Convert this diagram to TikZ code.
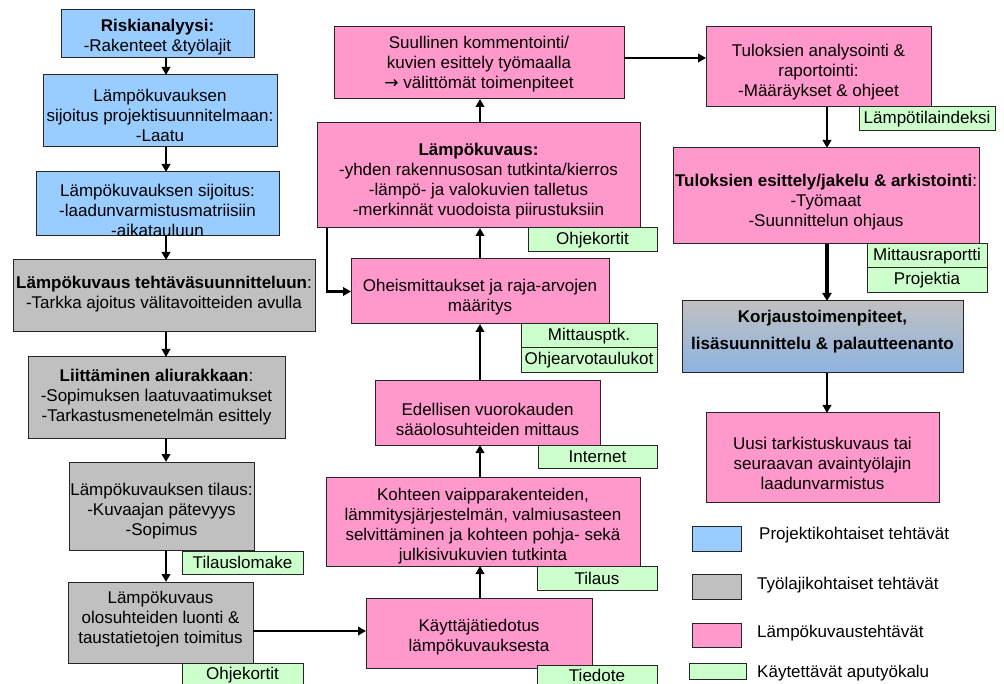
\documentclass[tikz,border=0pt]{standalone}
\usepackage{fontspec}
\setmainfont{Liberation Sans}
\newfontfamily\symfont{DejaVu Sans}
\usetikzlibrary{arrows.meta}
\definecolor{bluec}{HTML}{99CCFF}
\definecolor{grayc}{HTML}{C0C0C0}
\definecolor{pinkc}{HTML}{FF99CC}
\definecolor{greenc}{HTML}{CCFFCC}
\definecolor{korb}{HTML}{8DB3E2}
\tikzset{
 base/.style={draw=black!85, line width=1pt, inner sep=0pt, outer sep=0pt},
 bluebox/.style={base, fill=bluec},
 graybox/.style={base, fill=grayc},
 pinkbox/.style={base, fill=pinkc},
 greenbox/.style={base, fill=greenc},
 korbox/.style={base, top color=grayc, bottom color=korb},
 txt/.style={align=center, font=\fontsize{17}{20}\selectfont, inner sep=0pt, text=black},
 legtxt/.style={anchor=west, font=\fontsize{17}{20}\selectfont, inner sep=0pt, text=black},
 arr/.style={line width=2.2pt, -{Triangle[length=8pt,width=8.5pt]}},
 thickarr/.style={line width=3.3pt, -{Triangle[length=8pt,width=9pt]}},
}
% style, name, x1, y1, x2, y2, dy, text
\newcommand\mybox[8]{%
  \node[#1, minimum width={#5-#3}, minimum height={#6-#4},
        label={[name=#2-t, txt, yshift={-(#7)}]center:{#8}}]
        (#2) at ({(#3+#5)/2},{(#4+#6)/2}) {};}
\begin{document}
\begin{tikzpicture}[x=1pt,y=-1pt]
\fill[white] (0,0) rectangle (1004,684);
\useasboundingbox (0,0) rectangle (1004,684);

% left column
\mybox{bluebox}{b1}{61}{10}{254}{58}{3.5}{\textbf{Riskianalyysi:}\\-Rakenteet \&työlajit}
\mybox{bluebox}{b2}{43}{75}{277}{147}{4.5}{Lämpökuvauksen\\sijoitus projektisuunnitelmaan:\\-Laatu}
\mybox{bluebox}{b3}{36}{172}{279}{236}{6}{Lämpökuvauksen sijoitus:\\-laadunvarmistusmatriisiin\\-aikatauluun}
\mybox{graybox}{b4}{13}{260}{315}{332}{-2}{\textbf{Lämpökuvaus tehtäväsuunnitteluun}:\\-Tarkka ajoitus välitavoitteiden avulla}
\mybox{graybox}{b5}{28}{357}{285}{438}{0}{\textbf{Liittäminen aliurakkaan}:\\-Sopimuksen laatuvaatimukset\\-Tarkastusmenetelmän esittely}
\mybox{graybox}{b6}{69}{462}{254}{550}{5}{Lämpökuvauksen tilaus:\\-Kuvaajan pätevyys\\-Sopimus}
\mybox{greenbox}{g1}{182}{551}{303}{574}{0}{Tilauslomake}
\mybox{graybox}{b7}{68}{582}{253}{663}{-3.5}{Lämpökuvaus\\olosuhteiden luonti \&\\taustatietojen toimitus}
\mybox{greenbox}{g2}{182}{663}{303}{687}{0}{Ohjekortit}

% middle column
\mybox{pinkbox}{suu}{334}{27}{624}{99}{1.5}{Suullinen kommentointi/\\kuvien esittely työmaalla\\{\symfont →} välittömät toimenpiteet}
\mybox{pinkbox}{lam}{317}{123}{640}{228}{5.5}{\textbf{Lämpökuvaus:}\\-yhden rakennusosan tutkinta/kierros\\-lämpö- ja valokuvien talletus\\-merkinnät vuodoista piirustuksiin}
\mybox{greenbox}{g3}{528}{228}{657}{252}{0}{Ohjekortit}
\mybox{pinkbox}{ohe}{351}{259}{609}{324}{6}{Oheismittaukset ja raja-arvojen\\määritys}
\mybox{greenbox}{g4}{521}{324}{657}{348}{0}{Mittausptk.}
\mybox{greenbox}{g5}{521}{348}{657}{373}{0}{Ohjearvotaulukot}
\mybox{pinkbox}{ede}{375}{381}{600}{445}{6}{Edellisen vuorokauden\\sääolosuhteiden mittaus}
\mybox{greenbox}{g6}{538}{445}{657}{468}{0}{Internet}
\mybox{pinkbox}{koh}{326}{477}{640}{566}{4.5}{Kohteen vaipparakenteiden,\\lämmitysjärjestelmän, valmiusasteen\\selvittäminen ja kohteen pohja- sekä\\julkisivukuvien tutkinta}
\mybox{greenbox}{g7}{537}{566}{657}{590}{0}{Tilaus}
\mybox{pinkbox}{kay}{366}{598}{592}{668}{3.7}{Käyttäjätiedotus\\lämpökuvauksesta}
\mybox{greenbox}{g8}{537}{665}{657}{689}{-2}{Tiedote}

% right column
\mybox{pinkbox}{tul}{706}{27}{931}{107}{5.5}{Tuloksien analysointi \&\\raportointi:\\-Määräykset \& ohjeet}
\mybox{greenbox}{g9}{859}{107}{995}{131}{0}{Lämpötilaindeksi}
\mybox{pinkbox}{tes}{673}{148}{979}{244}{5.7}{\textbf{Tuloksien esittely/jakelu \& arkistointi}:\\-Työmaat\\-Suunnittelun ohjaus}
\mybox{greenbox}{g10}{867}{244}{987}{268}{0}{Mittausraportti}
\mybox{greenbox}{g11}{867}{268}{987}{293}{0}{Projektia}
\mybox{korbox}{kor}{682}{301}{963}{373}{-5}{\textbf{Korjaustoimenpiteet,}\\[7pt]\textbf{lisäsuunnittelu \& palautteenanto}}
\mybox{pinkbox}{uus}{706}{413}{939}{502}{5.8}{Uusi tarkistuskuvaus tai\\seuraavan avaintyölajin\\laadunvarmistus}

% legend
\node[bluebox, minimum width=49, minimum height=25] (l1) at (716.5,538.5) {};
\node[legtxt] (l1t) at (759,535) {Projektikohtaiset tehtävät};
\node[graybox, minimum width=49, minimum height=25] (l2) at (716.5,586.5) {};
\node[legtxt] (l2t) at (757,585) {Työlajikohtaiset tehtävät};
\node[pinkbox, minimum width=49, minimum height=24] (l3) at (716.5,635) {};
\node[legtxt] (l3t) at (757,633) {Lämpökuvaustehtävät};
\node[greenbox, minimum width=57, minimum height=16] (l4) at (717.5,671) {};
\node[legtxt] (l4t) at (757,673) {Käytettävät aputyökalu};

% connector coordinates
\coordinate (cL) at (166,0);
\coordinate (cM) at (480,0);
\coordinate (cR) at (827,0);
\coordinate (cX) at (327,0);
\coordinate (r1) at (0,631);
\coordinate (r2) at (0,58);

\draw[arr] (b1.south -| cL) -- (b2.north -| cL);
\draw[arr] (b2.south -| cL) -- (b3.north -| cL);
\draw[arr] (b3.south -| cL) -- (b4.north -| cL);
\draw[arr] (b4.south -| cL) -- (b5.north -| cL);
\draw[arr] (b5.south -| cL) -- (b6.north -| cL);
\draw[arr] (b6.south -| cL) -- (b7.north -| cL);
\draw[arr] (b7.east |- r1) -- (kay.west |- r1);
\draw[arr] (kay.north -| cM) -- (koh.south -| cM);
\draw[arr] (koh.north -| cM) -- (ede.south -| cM);
\draw[arr] (ede.north -| cM) -- (ohe.south -| cM);
\draw[arr] (ohe.north -| cM) -- (lam.south -| cM);
\draw[arr] (lam.north -| cM) -- (suu.south -| cM);
\draw[arr] (lam.south -| cX) |- (ohe.west);
\draw[arr] (suu.east |- r2) -- (tul.west |- r2);
\draw[arr] (tul.south -| cR) -- (tes.north -| cR);
\draw[thickarr] (tes.south -| cR) -- (kor.north -| cR);
\draw[arr] (kor.south -| cR) -- (uus.north -| cR);
\end{tikzpicture}
\end{document}
